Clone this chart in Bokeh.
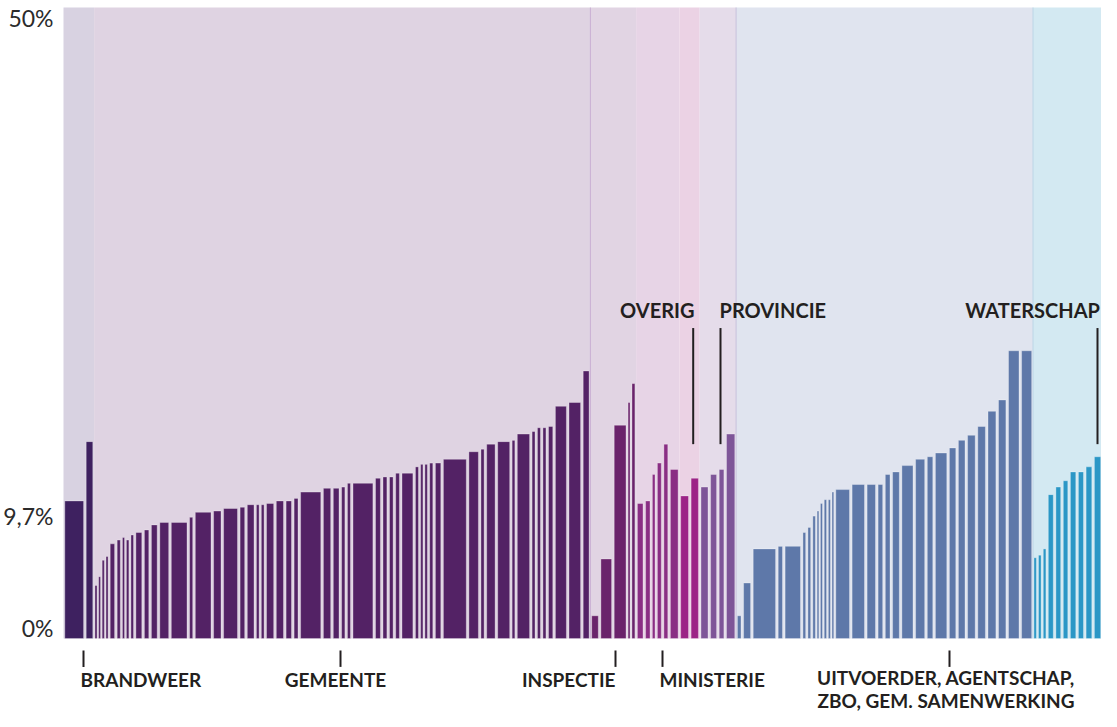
from bokeh.plotting import figure
from bokeh.models import Range1d
from bokeh.core.properties import value
from bokeh.embed import file_html
from bokeh.resources import INLINE

# ---- data: percentage per organisation and relative bar width ----
brandweer_waarde = [10.9, 15.6]
brandweer_breedte = [21.4, 9.2]

gemeente_waarde = [4.2, 4.9, 6.2, 6.5, 7.5, 7.8, 8.0, 7.8, 8.2, 8.4, 8.6, 9.0, 9.2, 9.2, 9.6,
                   10.0, 10.1, 10.3, 10.4, 10.6, 10.6, 10.6, 10.7, 10.9, 10.9, 11.1, 11.6, 11.9,
                   11.9, 12.0, 12.3, 12.3, 12.7, 12.8, 12.8, 13.1, 13.1, 13.6, 13.8, 13.8, 13.9,
                   13.9, 14.2, 14.8, 15.0, 15.4, 15.6, 15.7, 16.2, 16.4, 16.7, 16.7, 16.8, 18.4,
                   18.7, 21.2]
gemeente_breedte = [3.8, 3.4, 3.9, 3.7, 7.0, 5.7, 3.8, 4.5, 4.7, 8.5, 7.0, 8.4, 11.5, 18.3, 5.7,
                    18.3, 10.0, 16.5, 7.2, 9.3, 4.9, 5.0, 9.8, 9.8, 8.0, 6.5, 22.8, 9.9, 8.3, 5.9,
                    5.5, 22.5, 7.5, 6.5, 6.2, 6.3, 13.5, 5.5, 4.2, 4.5, 5.7, 8.0, 25.5, 12.1, 5.7,
                    11.0, 14.6, 5.0, 14.9, 5.3, 5.5, 5.5, 6.9, 13.6, 14.2, 8.5]

inspectie_waarde = [1.8, 6.3, 16.9, 18.7, 20.2]
inspectie_breedte = [9.2, 13.3, 14.4, 3.5, 5.3]

ministerie_waarde = [10.7, 10.9, 13.0, 13.9, 15.4, 13.4]
ministerie_breedte = [8.2, 7.0, 4.8, 6.5, 6.5, 10.3]

overig_waarde = [11.3, 12.7]
overig_breedte = [10.4, 9.9]

provincie_waarde = [12.0, 13.0, 13.4, 16.2]
provincie_breedte = [9.6, 8.6, 7.3, 10.9]

uitvoerder_waarde = [1.8, 4.4, 7.1, 7.3, 7.3, 8.4, 8.8, 9.7, 10.1, 10.7, 11.0, 11.0, 11.6, 11.8,
                     12.2, 12.2, 12.2, 13.0, 13.2, 13.7, 14.2, 14.4, 14.7, 15.1, 15.7, 16.1, 16.8,
                     18.0, 18.9, 22.8, 22.8]
uitvoerder_breedte = [6.2, 9.6, 25.0, 6.9, 18.0, 5.0, 5.0, 4.6, 3.2, 3.7, 4.2, 3.8, 3.2, 16.3,
                      15.0, 11.0, 7.2, 7.3, 9.3, 13.7, 11.7, 8.1, 14.0, 9.0, 9.2, 10.2, 10.2, 10.5,
                      10.0, 13.1, 12.7]

waterschap_waarde = [6.4, 6.6, 7.1, 11.4, 12.0, 12.5, 13.2, 13.2, 13.6, 14.4]
waterschap_breedte = [4.4, 4.8, 4.8, 7.6, 7.4, 7.1, 8.0, 7.7, 8.3, 8.9]

y_ticks = [0, 9.7, 50]
y_tick_labels = ["0%", "9,7%", "50%"]

# ---- styles ----
groups = [
    ("brandweer", brandweer_waarde, brandweer_breedte, "#3e2160", "#d8d2e1"),
    ("gemeente", gemeente_waarde, gemeente_breedte, "#532265", "#dfd3e2"),
    ("inspectie", inspectie_waarde, inspectie_breedte, "#6a236b", "#e1d4e3"),
    ("ministerie", ministerie_waarde, ministerie_breedte, "#8a2e84", "#e7d4e6"),
    ("overig", overig_waarde, overig_breedte, "#9c2386", "#ebd2e4"),
    ("provincie", provincie_waarde, provincie_breedte, "#7e5598", "#e5dcea"),
    ("uitvoerder", uitvoerder_waarde, uitvoerder_breedte, "#5e78a9", "#e0e4ef"),
    ("waterschap", waterschap_waarde, waterschap_breedte, "#2b97c6", "#d3e9f2"),
]
boundary_lines = {"inspectie": "#c9aed3", "uitvoerder": "#c6c0dc", "waterschap": "#bcd6e6"}

px_per_unit = 12.62
fig_w, fig_h = 1101, 711
y_top = 50 + 7 / px_per_unit
y_bot = y_top - fig_h / px_per_unit
x_start = -63

p = figure(width=fig_w, height=fig_h, title=None,
           x_range=Range1d(x_start, x_start + fig_w), y_range=Range1d(y_bot, y_top),
           output_backend="svg", toolbar_location=None, min_border=0,
           outline_line_color=None, background_fill_color="white",
           border_fill_color="white")
p.axis.visible = False
p.grid.visible = False

bg_l, bg_r, bg_c = [], [], []
bl, br, bt, bc = [], [], [], []
vline_x, vline_c = [], []
x = 0.0
for name, vals, widths, bar_col, bg_col in groups:
    start = x
    for v, w in zip(vals, widths):
        g = min(2.6, 0.45 * w)
        bl.append(x + g / 2)
        br.append(x + w - g / 2)
        bt.append(v)
        bc.append(bar_col)
        x += w
    bg_l.append(start)
    bg_r.append(x)
    bg_c.append(bg_col)
    if name in boundary_lines:
        vline_x.append(start)
        vline_c.append(boundary_lines[name])

p.quad(left=bg_l, right=bg_r, bottom=0, top=50, fill_color=bg_c, line_color=None)
p.segment(x0=vline_x, y0=0, x1=vline_x, y1=50, line_color=vline_c, line_width=1)
p.quad(left=bl, right=br, bottom=0, top=bt, fill_color=bc,
       line_color="white", line_alpha=0.3, line_width=1)

# y labels (0% sits just above the baseline, 50% just below the top)
font = value("Lato")
lab = dict(text_font=font, text_font_size="23px", text_color="#2b2b2b", text_align="right",
           text_baseline="middle")
p.text(x=[-10], y=[y_ticks[0] + 0.8], text=[y_tick_labels[0]], **lab)
p.text(x=[-10], y=[y_ticks[1]], text=[y_tick_labels[1]], **lab)
p.text(x=[-10], y=[y_ticks[2] - 0.85], text=[y_tick_labels[2]], **lab)

ink = "#231f20"
ann = dict(text_font=font, text_font_style="bold", text_font_size="20px", text_color=ink,
           text_baseline="middle")
# top annotations
top_x = [629.7, 657.0, 1034.0]
p.segment(x0=top_x, y0=15.4, x1=top_x, y1=24.6, line_color=ink, line_width=2)
p.text(x=[631.0], y=[26.0], text=["OVERIG"], text_align="right", **ann)
p.text(x=[656.0], y=[26.0], text=["PROVINCIE"], text_align="left", **ann)
p.text(x=[1036.5], y=[26.0], text=["WATERSCHAP"], text_align="right", **ann)

# bottom annotations
bot_x = [20.0, 277.0, 552.0, 599.0, 886.0]
p.segment(x0=bot_x, y0=-0.95, x1=bot_x, y1=-2.25, line_color=ink, line_width=2)
yb1 = -3.25
bot = dict(ann, text_font_size="19px")
p.text(x=[17.0], y=[yb1], text=["BRANDWEER"], text_align="left", **bot)
p.text(x=[272.0], y=[yb1], text=["GEMEENTE"], text_align="center", **bot)
p.text(x=[552.0], y=[yb1], text=["INSPECTIE"], text_align="right", **bot)
p.text(x=[596.0], y=[yb1], text=["MINISTERIE"], text_align="left", **bot)
p.text(x=[882.5], y=[-3.99], text=["UITVOERDER, AGENTSCHAP,\nZBO, GEM. SAMENWERKING"],
       text_align="center", text_line_height=1.0, **bot)

open("out.html", "w").write(file_html(p, INLINE))
